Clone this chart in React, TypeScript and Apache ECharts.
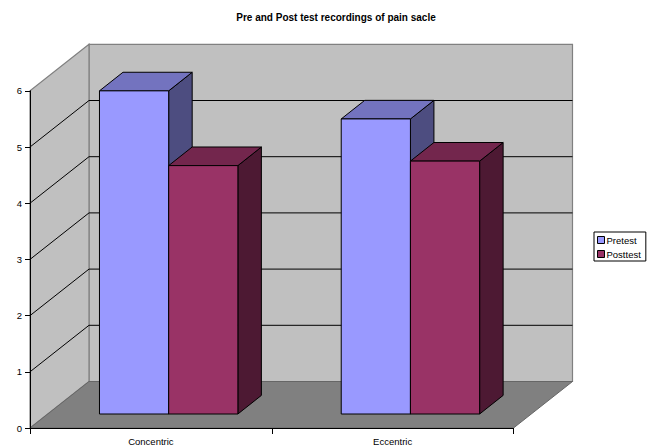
import React, { useEffect, useRef } from "react";
import * as echarts from "echarts";

const categories = ["Concentric", "Eccentric"];
const pretest = [5.75, 5.25];
const posttest = [4.42, 4.5];
const wallTicks = [1, 2, 3, 4, 5];

const DEPTH_X = 59;
const DEPTH_Y = 46.5;
const BAR_DEPTH_X = 23.5;
const BAR_DEPTH_Y = 18.6;
const FLOOR_INSET_X = 17.8;
const FLOOR_INSET_Y = 14;
const BAR_WIDTH = 69.2;

const stroke = (color: string, lineWidth = 1) => ({ stroke: color, lineWidth, fill: "none" });

// Walls, floor and the gridlines that run along both walls, all placed from the value scale.
function renderWalls(params: any, api: any) {
  const cs = params.coordSys;
  const left = cs.x;
  const right = cs.x + cs.width;
  const y = (v: number) => api.coord([0, v])[1];
  const y0 = y(0);
  const y6 = y(6);
  const poly = (points: number[][], fill: string) => ({
    type: "polygon",
    shape: { points },
    style: { fill, stroke: "#808080", lineWidth: 1.2 },
    silent: true,
  });
  const children: any[] = [
    poly(
      [
        [left + DEPTH_X, y6 - DEPTH_Y],
        [right + DEPTH_X, y6 - DEPTH_Y],
        [right + DEPTH_X, y0 - DEPTH_Y],
        [left + DEPTH_X, y0 - DEPTH_Y],
      ],
      "#c0c0c0"
    ),
    poly(
      [
        [left, y0],
        [left + DEPTH_X, y0 - DEPTH_Y],
        [left + DEPTH_X, y6 - DEPTH_Y],
        [left, y6],
      ],
      "#c0c0c0"
    ),
    {
      type: "polygon",
      shape: {
        points: [
          [left, y0],
          [right, y0],
          [right + DEPTH_X, y0 - DEPTH_Y],
          [left + DEPTH_X, y0 - DEPTH_Y],
        ],
      },
      style: { fill: "#808080", stroke: "#666666", lineWidth: 1 },
    },
  ];
  wallTicks.forEach((v) => {
    const yv = y(v);
    children.push({
      type: "polyline",
      shape: {
        points: [
          [left, yv],
          [left + DEPTH_X, yv - DEPTH_Y],
          [right + DEPTH_X, yv - DEPTH_Y],
        ],
      },
      style: stroke("#000000"),
    });
  });
  return { type: "group", children };
}

// A single extruded bar: front face, top face and right-hand side face.
function barRenderer(offsetSign: number, front: string, top: string, side: string) {
  return (_params: any, api: any) => {
    const i = api.value(0);
    const center = api.coord([i, 0])[0] + FLOOR_INSET_X;
    const base = api.coord([i, 0])[1] - FLOOR_INSET_Y;
    const head = api.coord([i, api.value(1)])[1] - FLOOR_INSET_Y;
    const x0 = offsetSign < 0 ? center - BAR_WIDTH : center;
    const x1 = x0 + BAR_WIDTH;
    const face = (points: number[][], fill: string) => ({
      type: "polygon",
      shape: { points },
      style: { fill, stroke: "#000000", lineWidth: 1, lineJoin: "round" },
    });
    return {
      type: "group",
      children: [
        face(
          [
            [x1, head],
            [x1 + BAR_DEPTH_X, head - BAR_DEPTH_Y],
            [x1 + BAR_DEPTH_X, base - BAR_DEPTH_Y],
            [x1, base],
          ],
          side
        ),
        face(
          [
            [x0, head],
            [x0 + BAR_DEPTH_X, head - BAR_DEPTH_Y],
            [x1 + BAR_DEPTH_X, head - BAR_DEPTH_Y],
            [x1, head],
          ],
          top
        ),
        face(
          [
            [x0, head],
            [x1, head],
            [x1, base],
            [x0, base],
          ],
          front
        ),
      ],
    };
  };
}

const font = '"Liberation Sans", Arial, sans-serif';

export default function App() {
  const ref = useRef<HTMLDivElement>(null);

  useEffect(() => {
    const chart = echarts.init(ref.current!, undefined, { renderer: "svg" });
    chart.setOption({
      animation: false,
      backgroundColor: "#ffffff",
      title: {
        text: "Pre and Post test recordings of pain sacle",
        left: 331,
        top: 7,
        textAlign: "center",
        textStyle: { fontFamily: font, fontSize: 10, fontWeight: "bold", color: "#000000" },
      },
      legend: {
        data: ["Pretest", "Posttest"],
        orient: "vertical",
        left: 594,
        top: 232,
        padding: [3, 5, 2, 3],
        itemGap: 4,
        itemWidth: 7,
        itemHeight: 7,
        icon: "rect",
        backgroundColor: "#ffffff",
        borderColor: "#000000",
        borderWidth: 1,
        borderRadius: 0,
        itemStyle: { borderColor: "#000000", borderWidth: 1 },
        textStyle: { fontFamily: font, fontSize: 9.5, color: "#000000", padding: [0, 0, 0, -3] },
      },
      grid: { left: 30, right: 142.5, top: 90.8, bottom: 16.8 },
      xAxis: {
        type: "category",
        data: categories,
        z: 10,
        axisLine: { lineStyle: { color: "#000000", width: 1 } },
        axisTick: { show: true, length: 6, lineStyle: { color: "#000000" } },
        axisLabel: { fontFamily: font, fontSize: 9.5, color: "#000000", margin: 8 },
      },
      yAxis: {
        type: "value",
        min: 0,
        max: 6,
        interval: 1,
        z: 10,
        splitLine: { show: false },
        axisLine: { show: true, lineStyle: { color: "#000000", width: 1 } },
        axisTick: { show: true, length: 5, lineStyle: { color: "#000000" } },
        axisLabel: { fontFamily: font, fontSize: 9.5, color: "#000000", margin: 8 },
      },
      series: [
        {
          type: "custom",
          name: "Walls",
          renderItem: renderWalls,
          data: [[0, 0]],
          silent: true,
          z: 1,
        },
        {
          type: "custom",
          name: "Pretest",
          renderItem: barRenderer(-1, "#9999ff", "#7373bf", "#4d4d80"),
          itemStyle: { color: "#9999ff" },
          data: pretest.map((v, i) => [i, v]),
          z: 2,
        },
        {
          type: "custom",
          name: "Posttest",
          renderItem: barRenderer(1, "#993366", "#73264d", "#4d1933"),
          itemStyle: { color: "#993366" },
          data: posttest.map((v, i) => [i, v]),
          z: 3,
        },
      ],
    });
    return () => chart.dispose();
  }, []);

  return (
    <div
      ref={ref}
      style={{ position: "fixed", left: 0, top: 0, width: 656, height: 446 }}
    />
  );
}
